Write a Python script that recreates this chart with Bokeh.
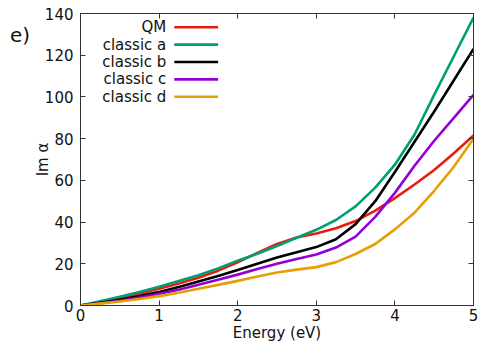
from bokeh.plotting import figure
from bokeh.models import Range1d, LinearAxis, Label, FixedTicker, Div
from bokeh.layouts import row
from bokeh.embed import file_html
from bokeh.resources import INLINE

# ---- data ----
energy = [0, 0.25, 0.5, 0.75, 1, 1.25, 1.5, 1.75, 2, 2.25, 2.5, 2.75, 3, 3.25, 3.5, 3.75, 4, 4.25, 4.5, 4.75, 5]
qm        = [0, 1.7, 3.6, 5.6, 8, 10.5, 13.3, 16.7, 20.7, 25.2, 29.5, 32.6, 34.5, 37, 40.5, 45.5, 51.5, 58, 65, 73, 81.5]
classic_a = [0, 2, 4.2, 6.5, 9, 11.7, 14.5, 17.8, 21.5, 24.8, 28.5, 32.5, 36.3, 41, 47.5, 56.5, 67.5, 82, 101, 119.5, 138]
classic_b = [0, 1.3, 2.8, 4.5, 6.5, 8.9, 11.5, 14.2, 17, 20, 23, 25.5, 28, 31.8, 39, 50, 64, 78.5, 93, 108, 123]
classic_c = [0, 1.1, 2.3, 3.8, 5.6, 7.6, 9.9, 12.3, 14.8, 17.5, 20, 22.3, 24.5, 27.8, 33, 42.5, 54, 67, 79, 90, 101]
classic_d = [0, 0.9, 1.9, 3.1, 4.5, 6.1, 8, 9.9, 11.8, 13.9, 15.8, 17.2, 18.4, 20.8, 24.7, 29.5, 36.5, 44.5, 55, 66.5, 80]

series_names = ["QM", "classic a", "classic b", "classic c", "classic d"]
series_vals = [qm, classic_a, classic_b, classic_c, classic_d]
colors = ["#e51e10", "#009e73", "#000000", "#9400d3", "#e69f00"]

x_ticks = [0, 1, 2, 3, 4, 5]
y_ticks = [0, 20, 40, 60, 80, 100, 120, 140]

FONT = "DejaVu Sans"
AX = "#333333"
TAG_W = 30

p = figure(width=481 - TAG_W, height=344, output_backend="svg", toolbar_location=None,
           x_range=Range1d(0, 5), y_range=Range1d(0, 140),
           min_border_left=79 - TAG_W, min_border_right=8, min_border_top=13, min_border_bottom=35)
p.xgrid.visible = False
p.ygrid.visible = False
p.outline_line_color = AX
p.outline_line_width = 1
p.background_fill_color = "white"
p.border_fill_color = "white"

for ax in [p.xaxis[0], p.yaxis[0]]:
    ax.major_tick_in = 5
    ax.major_tick_out = 0
    ax.minor_tick_line_color = None
    ax.axis_line_color = AX
    ax.major_tick_line_color = AX
    ax.major_label_text_font = FONT
    ax.major_label_text_font_size = "15px"
    ax.major_label_text_color = "#111111"
    ax.axis_label_text_font = FONT
    ax.axis_label_text_font_size = "15px"
    ax.axis_label_text_font_style = "normal"
    ax.axis_label_text_color = "#111111"

p.xaxis[0].ticker = FixedTicker(ticks=x_ticks)
p.yaxis[0].ticker = FixedTicker(ticks=y_ticks)
p.xaxis[0].axis_label = "Energy (eV)"
p.yaxis[0].axis_label = "Im α"
p.xaxis[0].major_label_standoff = 3
p.xaxis[0].axis_label_standoff = 0
p.yaxis[0].major_label_standoff = 7
p.yaxis[0].axis_label_standoff = -10

# mirrored ticks on top and right (no labels)
top = LinearAxis(ticker=FixedTicker(ticks=x_ticks), major_tick_in=5, major_tick_out=0,
                 minor_tick_line_color=None, major_label_overrides={t: "" for t in x_ticks},
                 major_label_standoff=0, axis_line_color=AX, major_tick_line_color=AX)
right = LinearAxis(ticker=FixedTicker(ticks=y_ticks), major_tick_in=5, major_tick_out=0,
                   minor_tick_line_color=None, major_label_overrides={t: "" for t in y_ticks},
                   major_label_standoff=0, axis_line_color=AX, major_tick_line_color=AX)
p.add_layout(top, "above")
p.add_layout(right, "right")

for vals, c in zip(series_vals, colors):
    p.line(energy, vals, line_color=c, line_width=2.6, line_join="round")

# ---- legend (text right-aligned, sample line to the right), layout in frame pixels ----
px_per_x = 394 / 5.0
px_per_y = 296 / 140.0
leg_text_right = 86      # px from frame left
leg_line_x0 = 94
leg_line_x1 = 138
leg_row0 = 14            # px from frame top
leg_row_step = 17.6
for i, (name, c) in enumerate(zip(series_names, colors)):
    yy = 140 - (leg_row0 + i * leg_row_step) / px_per_y
    p.add_layout(Label(x=leg_text_right / px_per_x, y=yy, text=name, text_align="right",
                       text_baseline="middle", text_font=FONT, text_font_size="15px",
                       text_color="#111111"))
    p.segment(x0=[leg_line_x0 / px_per_x], y0=[yy], x1=[leg_line_x1 / px_per_x], y1=[yy],
              line_color=c, line_width=2.6)

# panel tag
tag = Div(text='<div style="font-family: \'DejaVu Sans\'; font-size: 20px; line-height: 24px; '
               'color: #111111; padding: 23px 0 0 10px; margin: 0;">e)</div>',
          width=TAG_W, height=344, margin=(0, 0, 0, 0))

layout = row(tag, p, spacing=0)
open("out.html", "w").write(file_html(layout, INLINE))
